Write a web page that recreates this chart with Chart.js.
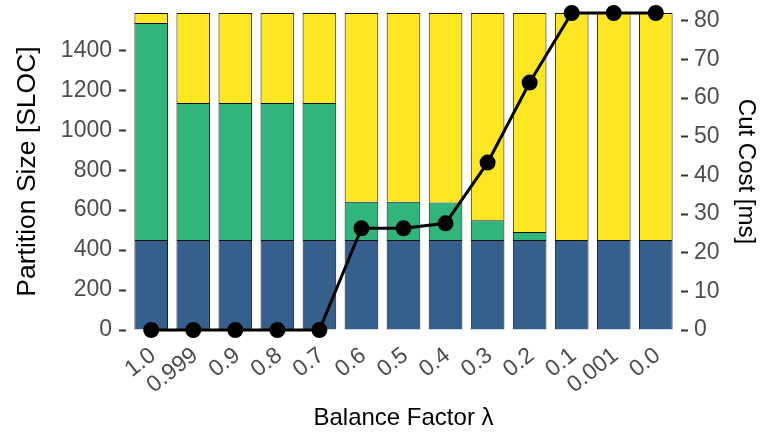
<!DOCTYPE html>
<html>
<head>
<meta charset="utf-8">
<script src="https://cdn.jsdelivr.net/npm/chart.js@4"></script>
<style>
  html, body { margin: 0; padding: 0; background: #fff; }
  #wrap { width: 760px; height: 434px; }
</style>
</head>
<body>
<div id="wrap"><canvas id="chart" width="760" height="434"></canvas></div>
<script>
// balance factor categories
const lambdas = ['1.0', '0.999', '0.9', '0.8', '0.7', '0.6', '0.5', '0.4', '0.3', '0.2', '0.1', '0.001', '0.0'];

// partition sizes in SLOC (stacked)
const partA = [450, 450, 450, 450, 450, 450, 450, 450, 450, 450, 450, 450, 450];
const partB = [1087, 686, 686, 686, 686, 192, 192, 188, 99, 40, 0, 0, 0];
const partC = [50, 451, 451, 451, 451, 945, 945, 949, 1038, 1097, 1137, 1137, 1137];

// cut cost in ms
const cutCost = [0, 0, 0, 0, 0, 26.3, 26.3, 27.6, 43.3, 64.0, 82, 82, 82];

const leftTicks = [0, 200, 400, 600, 800, 1000, 1200, 1400];
const rightTicks = [0, 10, 20, 30, 40, 50, 60, 70, 80];

const toXY = arr => arr.map((v, i) => ({ x: i, y: v }));

const tickFont = { family: 'Liberation Sans', size: 23 };
const titleFont = { family: 'Liberation Sans', size: 24 };

const barStyle = {
  type: 'bar',
  stack: 'parts',
  yAxisID: 'y',
  borderColor: '#111',
  borderWidth: 1,
  categoryPercentage: 1,
  barPercentage: 0.8,
  order: 2
};

// no extra padding from tick labels, the panel is placed by hand
const noPad = s => { s.paddingLeft = 0; s.paddingRight = 0; s.paddingTop = 0; s.paddingBottom = 0; };

const ctx = document.getElementById('chart').getContext('2d');
new Chart(ctx, {
  data: {
    datasets: [
      { ...barStyle, label: 'A', data: toXY(partA), backgroundColor: '#355F8D' },
      { ...barStyle, label: 'B', data: toXY(partB), backgroundColor: '#31B57B' },
      { ...barStyle, label: 'C', data: toXY(partC), backgroundColor: '#FDE725' },
      {
        type: 'line',
        label: 'Cut Cost',
        data: toXY(cutCost),
        yAxisID: 'y1',
        borderColor: '#000',
        backgroundColor: '#000',
        borderWidth: 3,
        pointRadius: 6.5,
        pointBackgroundColor: '#000',
        tension: 0,
        clip: false,
        order: 0
      }
    ]
  },
  options: {
    responsive: false,
    animation: false,
    layout: { padding: { top: 13, left: 0, right: 0, bottom: 0 } },
    plugins: { legend: { display: false }, tooltip: { enabled: false } },
    scales: {
      x: {
        type: 'linear',
        stacked: true,
        offset: false,
        min: -0.6,
        max: lambdas.length - 1 + 0.6,
        afterBuildTicks: s => { s.ticks = lambdas.map((_, i) => ({ value: i })); },
        afterFit: s => { s.height = 104; noPad(s); },
        grid: { display: false, drawTicks: false },
        border: { display: false },
        ticks: {
          autoSkip: false,
          maxRotation: 38,
          minRotation: 38,
          padding: 12,
          labelOffset: 2,
          color: '#4d4d4d',
          font: { family: 'Liberation Sans', size: 23 },
          callback: (v, i) => lambdas[i]
        },
        title: { display: true, text: 'Balance Factor λ', color: '#000', font: titleFont, padding: { top: 0, bottom: 1 } }
      },
      y: {
        position: 'left',
        stacked: true,
        min: 0,
        max: 1587,
        afterBuildTicks: s => { s.ticks = leftTicks.map(v => ({ value: v })); },
        afterFit: s => { s.width = 126; noPad(s); },
        grid: { drawOnChartArea: false, drawTicks: true, tickLength: 7, tickWidth: 2, tickColor: '#333' },
        border: { display: false },
        ticks: { padding: 7, color: '#4d4d4d', font: tickFont, callback: v => String(v) },
        title: { display: true, text: 'Partition Size [SLOC]', color: '#000', font: { family: 'Liberation Sans', size: 26.5 }, padding: { top: 12, bottom: 0 } }
      },
      y1: {
        position: 'right',
        min: 0,
        max: 82,
        afterBuildTicks: s => { s.ticks = rightTicks.map(v => ({ value: v })); },
        afterFit: s => { s.width = 79; noPad(s); },
        grid: { drawOnChartArea: false, drawTicks: true, tickLength: 7, tickWidth: 2, tickColor: '#333' },
        border: { display: false },
        ticks: { padding: 6, color: '#4d4d4d', font: tickFont, callback: v => String(v) },
        title: { display: true, text: 'Cut Cost [ms]', color: '#000', font: titleFont, padding: 0 }
      }
    }
  }
});
</script>
</body>
</html>
